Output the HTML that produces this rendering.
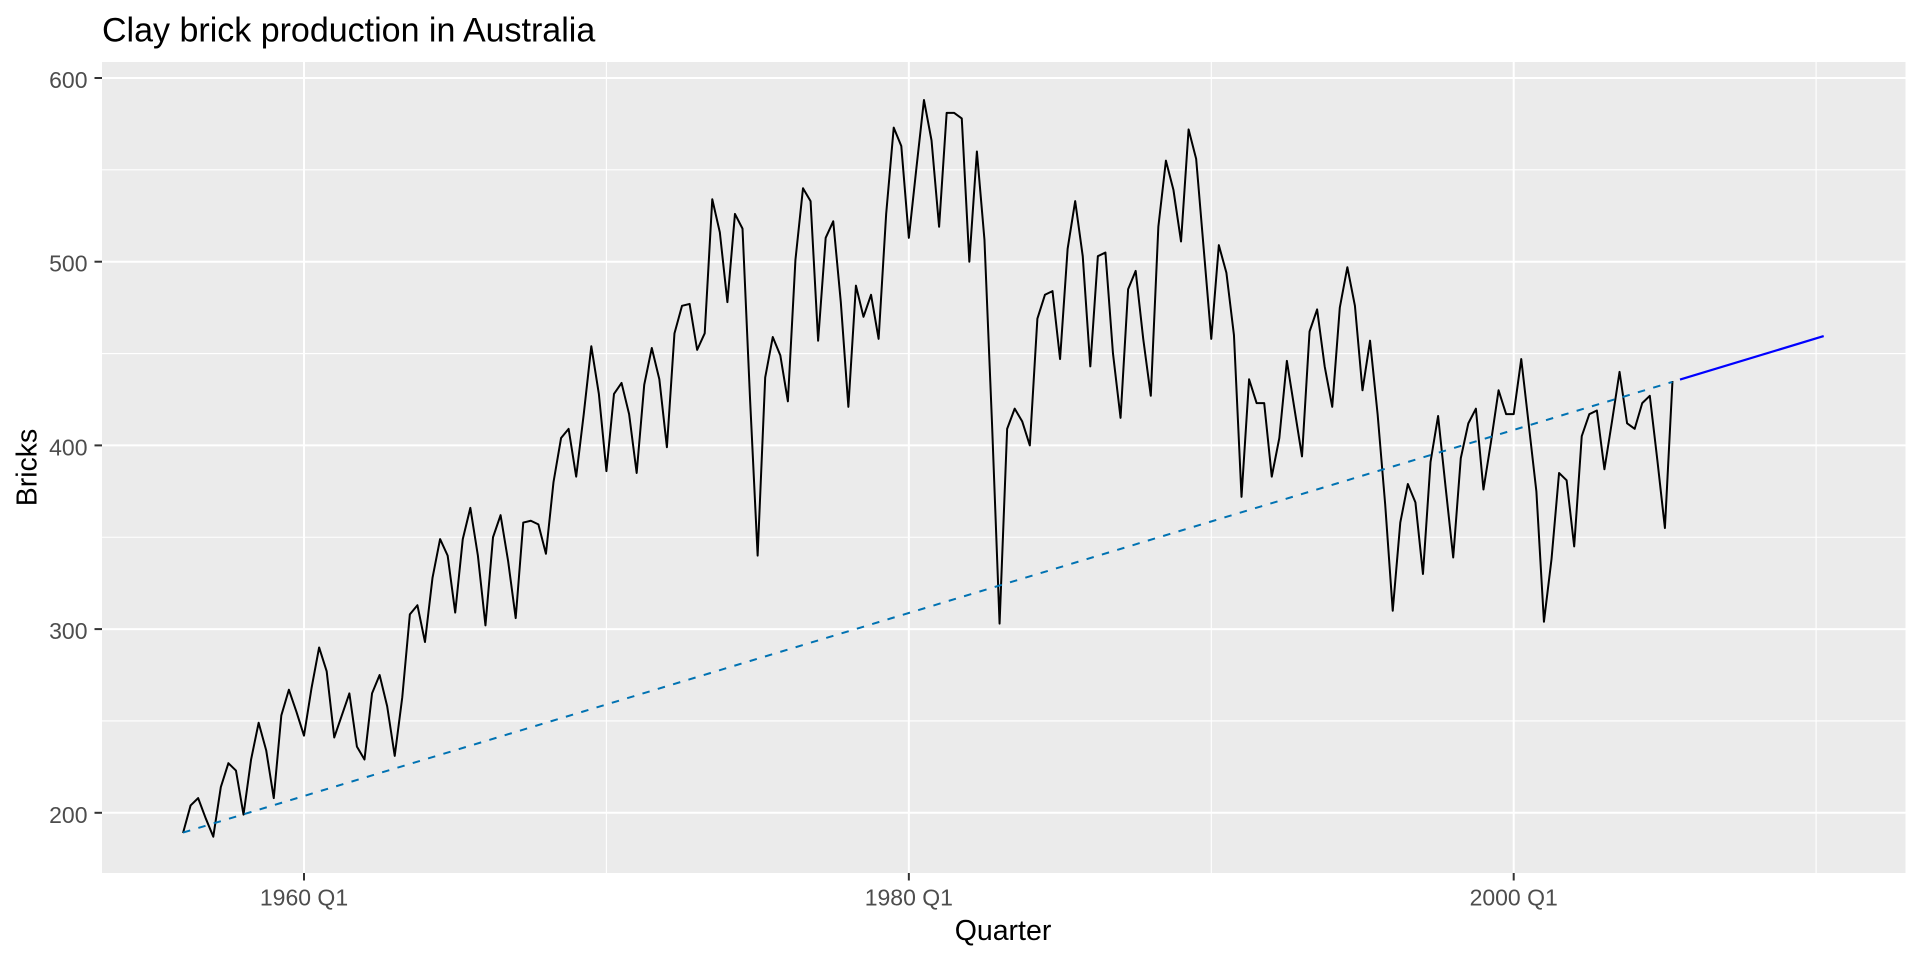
<!DOCTYPE html>
<html>
<head>
<meta charset="utf-8">
<style>
  html, body { margin: 0; padding: 0; background: #ffffff; }
  svg { display: block; }
  text { font-family: "Liberation Sans", Arial, sans-serif; }
</style>
</head>
<body>
<svg width="1920" height="960" viewBox="0 0 1920 960" xmlns="http://www.w3.org/2000/svg">
  <rect x="0" y="0" width="1920" height="960" fill="#ffffff"/>

  <!-- Title -->
  <text x="102" y="41.5" font-size="34" fill="#000000">Clay brick production in Australia</text>

  <!-- Panel -->
  <rect x="102" y="62" width="1803.5" height="811" fill="#EBEBEB"/>

  <!-- Minor gridlines -->
  <g stroke="#ffffff" stroke-width="1.1" fill="none">
    <line x1="102" x2="1905.5" y1="720.95" y2="720.95"/>
    <line x1="102" x2="1905.5" y1="537.25" y2="537.25"/>
    <line x1="102" x2="1905.5" y1="353.55" y2="353.55"/>
    <line x1="102" x2="1905.5" y1="169.85" y2="169.85"/>
    <line x1="606.4" x2="606.4" y1="62" y2="873"/>
    <line x1="1211.3" x2="1211.3" y1="62" y2="873"/>
    <line x1="1816.1" x2="1816.1" y1="62" y2="873"/>
  </g>

  <!-- Major gridlines -->
  <g stroke="#ffffff" stroke-width="2" fill="none">
    <line x1="102" x2="1905.5" y1="812.8" y2="812.8"/>
    <line x1="102" x2="1905.5" y1="629.1" y2="629.1"/>
    <line x1="102" x2="1905.5" y1="445.4" y2="445.4"/>
    <line x1="102" x2="1905.5" y1="261.7" y2="261.7"/>
    <line x1="102" x2="1905.5" y1="78" y2="78"/>
    <line x1="304" x2="304" y1="62" y2="873"/>
    <line x1="908.85" x2="908.85" y1="62" y2="873"/>
    <line x1="1513.7" x2="1513.7" y1="62" y2="873"/>
  </g>

  <!-- Data series (quarter index, value) -->
  <g transform="matrix(7.5606 0 0 -1.837 183.03 1180.2)">
    <polyline fill="none" stroke="#000000" stroke-width="2" vector-effect="non-scaling-stroke" stroke-linejoin="round"
      points="0,189 1,204 2,208 3,197 4,187 5,214 6,227 7,223 8,199 9,229 10,249 11,234 12,208 13,253 14,267 15,255 16,242 17,268 18,290 19,277 20,241 21,253 22,265 23,236 24,229 25,265 26,275 27,258 28,231 29,263 30,308 31,313 32,293 33,328 34,349 35,340 36,309 37,349 38,366 39,340 40,302 41,350 42,362 43,337 44,306 45,358 46,359 47,357 48,341 49,380 50,404 51,409 52,383 53,417 54,454 55,428 56,386 57,428 58,434 59,417 60,385 61,433 62,453 63,436 64,399 65,461 66,476 67,477 68,452 69,461 70,534 71,516 72,478 73,526 74,518 75,425 76,340 77,437 78,459 79,449 80,424 81,501 82,540 83,533 84,457 85,513 86,522 87,478 88,421 89,487 90,470 91,482 92,458 93,526 94,573 95,563 96,513 97,551 98,588 99,566 100,519 101,581 102,581 103,578 104,500 105,560 106,512 107,412 108,303 109,409 110,420 111,413 112,400 113,469 114,482 115,484 116,447 117,507 118,533 119,503 120,443 121,503 122,505 123,450 124,415 125,485 126,495 127,458 128,427 129,519 130,555 131,539 132,511 133,572 134,556 135,507 136,458 137,509 138,494 139,460 140,372 141,436 142,423 143,423 144,383 145,404 146,446 147,420 148,394 149,462 150,474 151,443 152,421 153,475 154,497 155,476 156,430 157,457 158,417 159,368 160,310 161,358 162,379 163,369 164,330 165,391 166,416 167,377 168,339 169,393 170,412 171,420 172,376 173,402 174,430 175,417 176,417 177,447 178,411 179,375 180,304 181,338 182,385 183,381 184,345 185,405 186,417 187,419 188,387 189,413 190,440 191,412 192,409 193,423 194,427 195,392 196,355 197,435"/>
  </g>

  <!-- Fitted trend (dashed) -->
  <line x1="183.03" y1="832.6" x2="1672.4" y2="381.9" stroke="#0072B2" stroke-width="2" stroke-dasharray="7.5 8.5" fill="none"/>

  <!-- Forecast -->
  <line x1="1680.0" y1="379.6" x2="1823.7" y2="336.1" stroke="#0000FF" stroke-width="2.2" fill="none"/>

  <!-- Y axis ticks -->
  <g stroke="#333333" stroke-width="2">
    <line x1="94.5" x2="102" y1="812.8" y2="812.8"/>
    <line x1="94.5" x2="102" y1="629.1" y2="629.1"/>
    <line x1="94.5" x2="102" y1="445.4" y2="445.4"/>
    <line x1="94.5" x2="102" y1="261.7" y2="261.7"/>
    <line x1="94.5" x2="102" y1="78" y2="78"/>
  </g>
  <!-- X axis ticks -->
  <g stroke="#333333" stroke-width="2">
    <line x1="304" x2="304" y1="873" y2="880.5"/>
    <line x1="908.85" x2="908.85" y1="873" y2="880.5"/>
    <line x1="1513.7" x2="1513.7" y1="873" y2="880.5"/>
  </g>

  <!-- Y tick labels -->
  <g font-size="23" fill="#4D4D4D" text-anchor="end">
    <text x="87.5" y="822.8">200</text>
    <text x="87.5" y="639.1">300</text>
    <text x="87.5" y="455.4">400</text>
    <text x="87.5" y="271.7">500</text>
    <text x="87.5" y="88">600</text>
  </g>

  <!-- X tick labels -->
  <g font-size="23" fill="#4D4D4D" text-anchor="middle">
    <text x="304" y="905.7">1960 Q1</text>
    <text x="908.85" y="905.7">1980 Q1</text>
    <text x="1513.7" y="905.7">2000 Q1</text>
  </g>

  <!-- Axis titles -->
  <text x="1003" y="940" font-size="28.5" fill="#000000" text-anchor="middle">Quarter</text>
  <text transform="translate(36.7,467.5) rotate(-90)" x="0" y="0" font-size="28.5" fill="#000000" text-anchor="middle">Bricks</text>
</svg>
</body>
</html>
